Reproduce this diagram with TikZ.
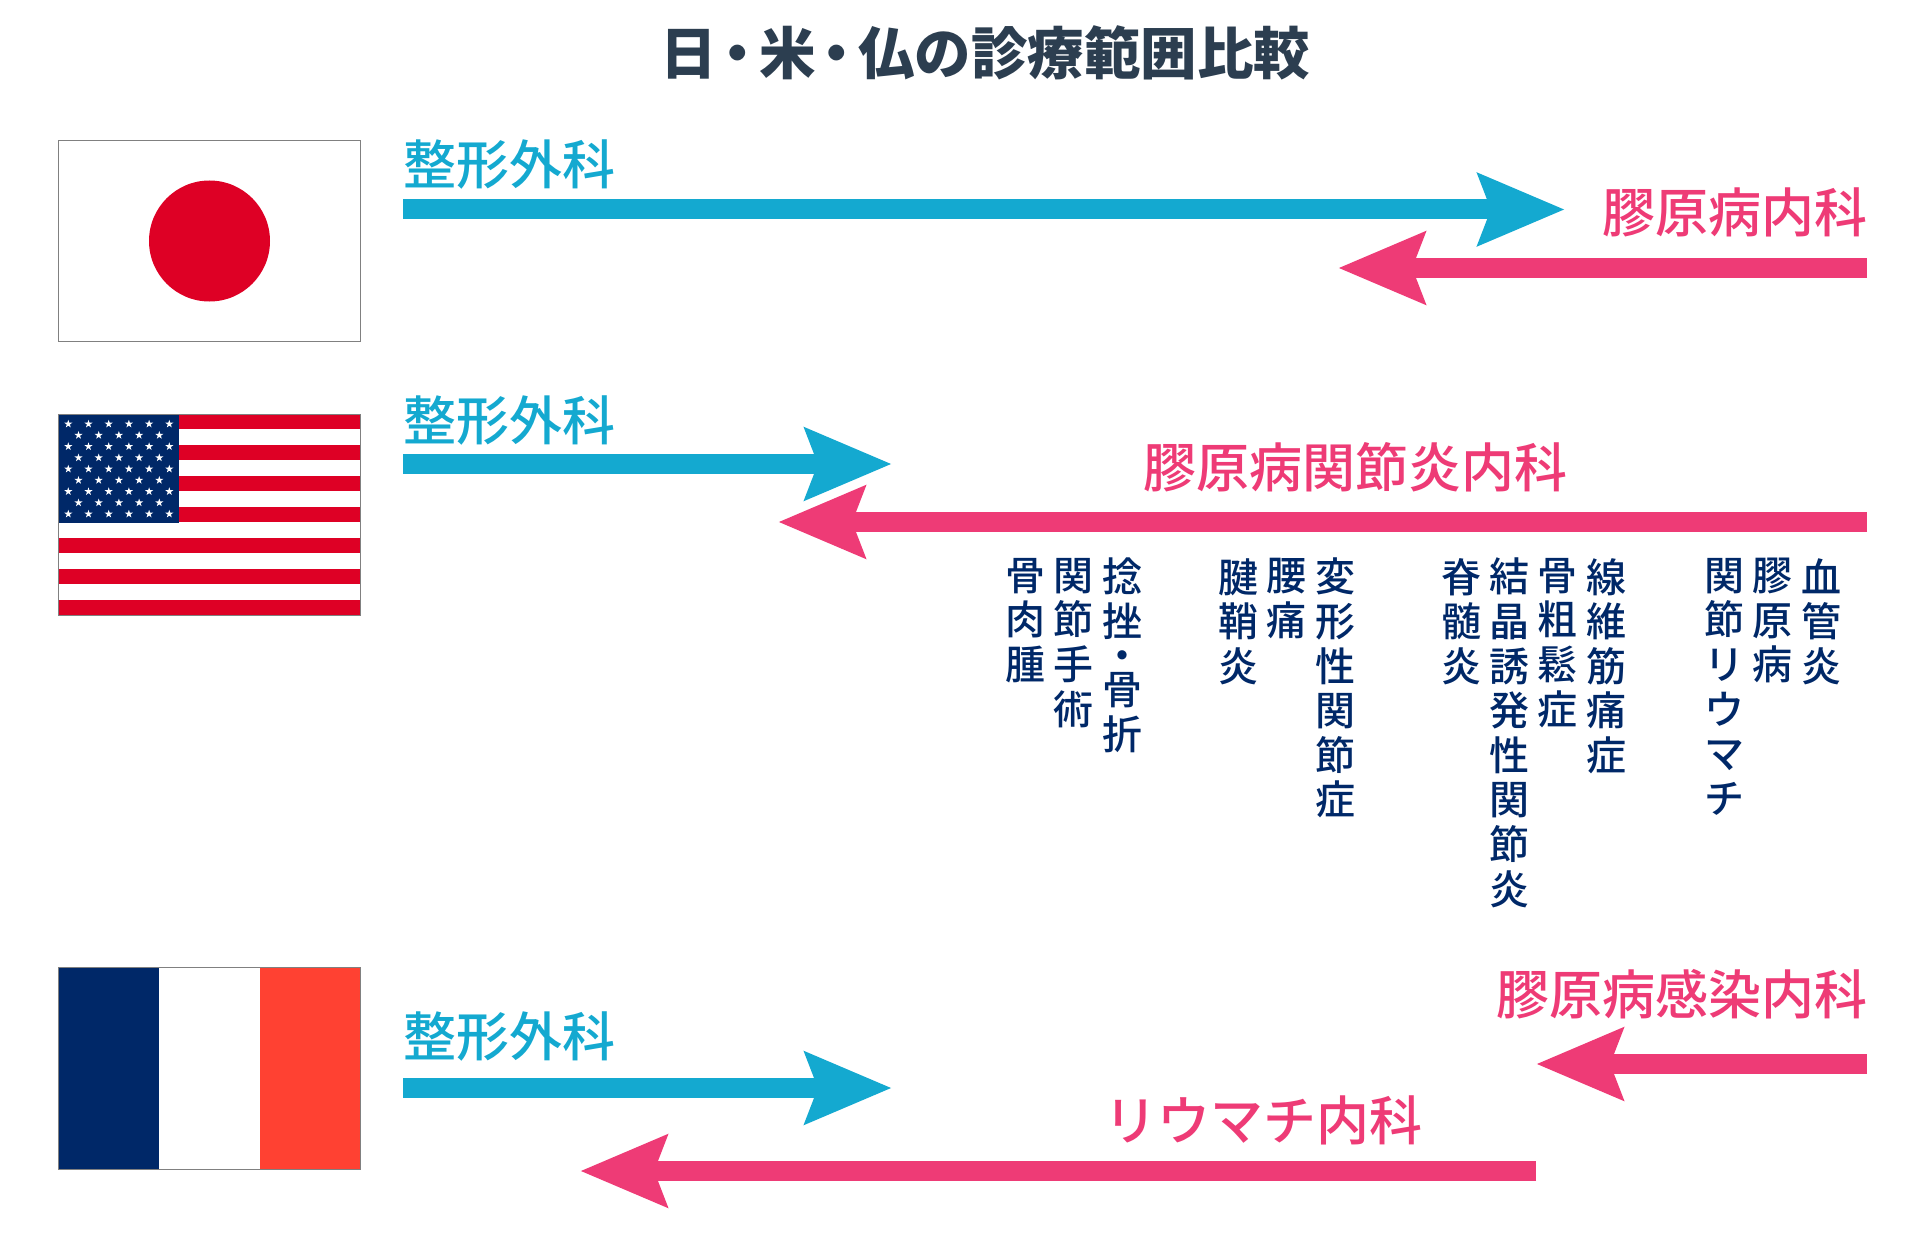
\documentclass[tikz,border=0pt]{standalone}
\usepackage{fontspec}
\usetikzlibrary{arrows.meta, shapes.geometric}
\setmainfont{Noto Sans CJK JP}
\newfontfamily\titlefont{Noto Sans CJK JP}[UprightFont=* Black]
\newfontfamily\labelfont{Noto Sans CJK JP}[UprightFont=* Medium]
\newcommand{\tdot}{\kern-7pt ・\kern-7pt}

\definecolor{ortho}{HTML}{14A9D0}
\definecolor{rheum}{HTML}{EE3B76}
\definecolor{navy}{HTML}{002868}
\definecolor{slate}{HTML}{2C3E50}
\definecolor{flagred}{HTML}{DE0025}
\definecolor{frblue}{HTML}{002868}
\definecolor{frred}{HTML}{FF4132}

\tikzset{
  dept/.style={font=\labelfont\fontsize{53}{53}\selectfont, inner sep=0pt},
  orthotext/.style={dept, text=ortho},
  rheumtext/.style={dept, text=rheum},
  disease/.style={font=\labelfont\fontsize{40}{44.6}\selectfont, text=navy, inner sep=0pt,
    anchor=north, align=center, text width=46pt},
  bar/.style={line width=20pt, -{Stealth[length=86pt, width=70pt, inset=12pt]}},
  orthobar/.style={bar, draw=ortho},
  rheumbar/.style={bar, draw=rheum},
  flagedge/.style={draw=black!50, line width=0.8pt},
  flagstar/.style={star, star points=5, star point ratio=2.6, fill=white, inner sep=0pt, minimum size=8.5pt},
}

\begin{document}
\begin{tikzpicture}[x=1pt, y=-1pt]
\useasboundingbox (0, 0) rectangle (1920, 1252);

% --- Title ---
\node[font=\titlefont\fontsize{56.5}{56.5}\selectfont, text=slate, inner sep=0pt] (title) at (985, 53) {日\tdot 米\tdot 仏の診療範囲比較};

% --- Japan ---
\fill[flagred] (209.5, 241) circle (60.5);
\draw[flagedge] (58, 140) rectangle (360.5, 341);
\node[orthotext, anchor=west] (jportho) at (403, 165) {整形外科};
\node[rheumtext, anchor=east] (jprheum) at (1868, 212) {膠原病内科};
\coordinate (jpa) at (403, 209.5);
\coordinate (jpb) at (1565, 209.5);
\coordinate (jpc) at (1867, 268);
\coordinate (jpd) at (1338, 268);
\draw[orthobar] (jpa) -- (jpb);
\draw[rheumbar] (jpc) -- (jpd);

% --- USA ---
\foreach \s in {0, 2, ..., 12} {
  \fill[flagred] (58, 414 + 15.46*\s) rectangle (360.5, 414 + 15.46 + 15.46*\s);
}
\fill[navy] (58, 414) rectangle (179, 523);
\foreach \r in {0, 2, 4, 6, 8} {
  \foreach \c in {0, ..., 5} {
    \node[flagstar] (star\r-\c) at (68.3 + 20.2*\c, 424 + 11.25*\r) {};
  }
}
\foreach \r in {1, 3, 5, 7} {
  \foreach \c in {0, ..., 4} {
    \node[flagstar] (star\r-\c) at (78.5 + 20.2*\c, 424 + 11.25*\r) {};
  }
}
\draw[flagedge] (58, 414) rectangle (360.5, 615);
\node[orthotext, anchor=west] (usortho) at (403, 421) {整形外科};
\node[rheumtext] (usrheum) at (1355, 467) {膠原病関節炎内科};
\coordinate (usa) at (403, 464);
\coordinate (usb) at (892, 464);
\coordinate (usc) at (1867, 522);
\coordinate (usd) at (778, 522);
\draw[orthobar] (usa) -- (usb);
\draw[rheumbar] (usc) -- (usd);

% --- Disease columns ---
\node[disease] (d1) at (1025, 558) {骨\\肉\\腫};
\node[disease] (d2) at (1073, 558) {関\\節\\手\\術};
\node[disease] (d3) at (1122, 558) {捻\\挫\\[-10.6pt]・\\[-10.6pt]骨\\折};
\node[disease] (d4) at (1238, 558) {腱\\鞘\\炎};
\node[disease] (d5) at (1286, 558) {腰\\痛};
\node[disease] (d6) at (1335, 558) {変\\形\\性\\関\\節\\症};
\node[disease] (d7) at (1461, 558) {脊\\髄\\炎};
\node[disease] (d8) at (1509, 558) {結\\晶\\誘\\発\\性\\関\\節\\炎};
\node[disease] (d9) at (1557, 558) {骨\\粗\\鬆\\症};
\node[disease] (d10) at (1606, 558) {線\\維\\筋\\痛\\症};
\node[disease] (d11) at (1724, 558) {関\\節\\リ\\ウ\\マ\\チ};
\node[disease] (d12) at (1772, 558) {膠\\原\\病};
\node[disease] (d13) at (1821, 558) {血\\管\\炎};

% --- France ---
\fill[frblue] (58, 967) rectangle (159, 1169);
\fill[frred] (260, 967) rectangle (360.5, 1169);
\draw[flagedge] (58, 967) rectangle (360.5, 1169);
\node[orthotext, anchor=west] (frortho) at (403, 1037) {整形外科};
\node[rheumtext, anchor=east] (frrheum) at (1868, 994) {膠原病感染内科};
\node[rheumtext] (frrheu) at (1263, 1120) {リウマチ内科};
\coordinate (fra) at (403, 1088);
\coordinate (frb) at (892, 1088);
\coordinate (frc) at (1867, 1064);
\coordinate (frd) at (1536, 1064);
\coordinate (fre) at (1536, 1171);
\coordinate (frf) at (580, 1171);
\draw[orthobar] (fra) -- (frb);
\draw[rheumbar] (frc) -- (frd);
\draw[rheumbar] (fre) -- (frf);

\end{tikzpicture}
\end{document}
